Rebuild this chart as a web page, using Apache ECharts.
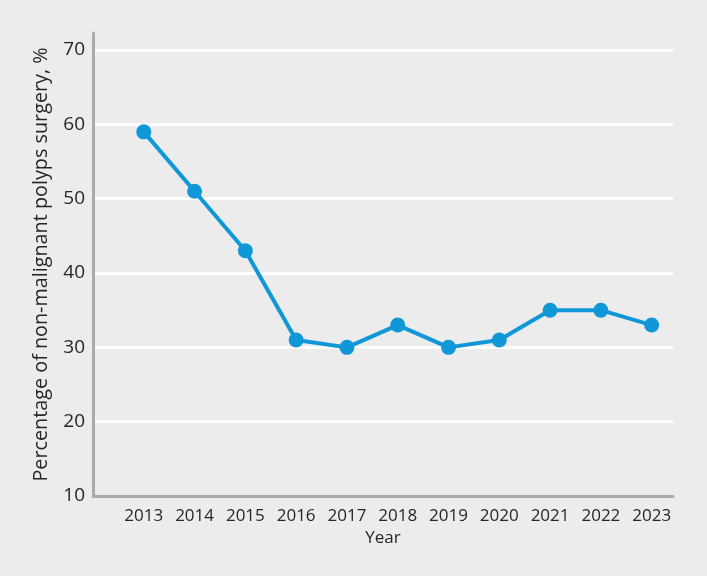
<!DOCTYPE html>
<html><head><meta charset="utf-8">
<script src="https://cdn.jsdelivr.net/npm/echarts@6/dist/echarts.min.js"></script>
<style>html,body{margin:0;padding:0;background:#ebeceb;}#c{width:707px;height:576px;}</style>
</head><body><div id="c"></div>
<script>
const years = [2013, 2014, 2015, 2016, 2017, 2018, 2019, 2020, 2021, 2022, 2023];
const percentages = [59, 51, 43, 31, 30, 33, 30, 31, 35, 35, 33];
const yTicks = [10, 20, 30, 40, 50, 60, 70];

const font = '"Open Sans", "DejaVu Sans", sans-serif';
const chart = echarts.init(document.getElementById('c'));
chart.setOption({
  backgroundColor: '#ebeceb',
  animation: false,
  grid: { left: 93, right: 34, top: 33, bottom: 80 },
  xAxis: {
    type: 'value', min: 2012, max: 2023.42, interval: 1,
    name: 'Year', nameLocation: 'middle', nameGap: 34,
    nameTextStyle: { color: '#262626', fontSize: 17, fontFamily: font },
    axisLine: { show: true, lineStyle: { color: '#aaaaaa', width: 3 } },
    axisTick: { show: false },
    splitLine: { show: false },
    axisLabel: {
      color: '#262626', fontSize: 17, fontFamily: font, margin: 12,
      showMinLabel: false, showMaxLabel: false,
      formatter: v => years.includes(v) ? String(v) : ''
    }
  },
  yAxis: {
    type: 'value', min: 10, max: 72.3, interval: 10,
    name: 'Percentage of non-malignant polyps surgery, %', nameLocation: 'middle', nameGap: 42,
    nameTextStyle: { color: '#262626', fontSize: 19.8, fontFamily: font },
    axisLine: { show: true, lineStyle: { color: '#aaaaaa', width: 3 } },
    axisTick: { show: false },
    splitLine: { show: true, lineStyle: { color: ['#ffffff','#ffffff','#ffffff','#ffffff','#ffffff','#ffffff','#ffffff','rgba(0,0,0,0)'], width: 3 } },
    axisLabel: {
      color: '#262626', fontSize: 19, fontFamily: font, margin: 8,
      formatter: v => yTicks.includes(v) ? String(v) : ''
    }
  },
  series: [{
    type: 'line',
    data: years.map((y, i) => [y, percentages[i]]),
    symbol: 'circle', symbolSize: 15,
    lineStyle: { color: '#0f97d8', width: 4 },
    itemStyle: { color: '#0f97d8' }
  }]
});
</script></body></html>
